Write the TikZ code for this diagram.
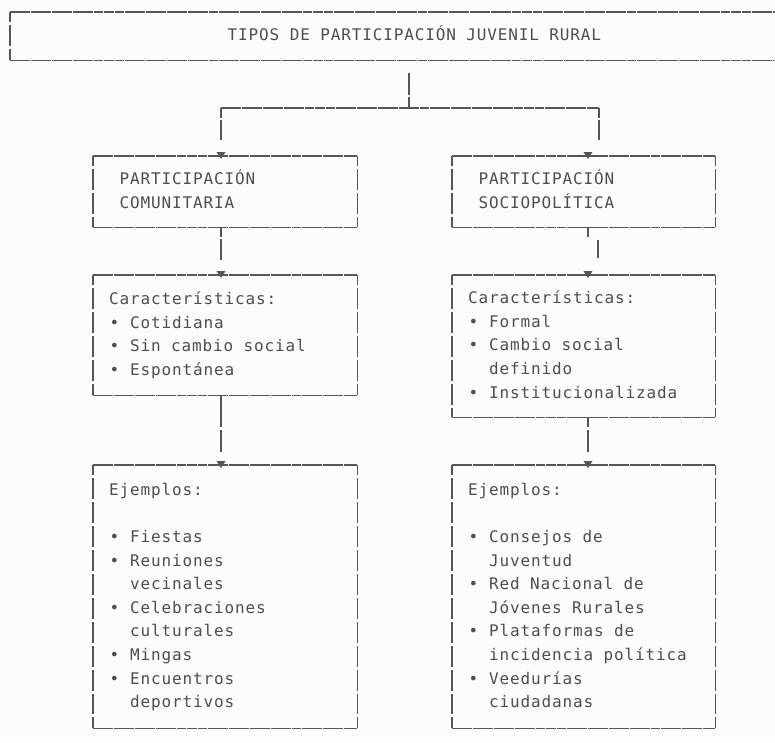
\documentclass[tikz,border=0pt]{standalone}
\usepackage{fontspec}
\newfontfamily\monofam[LetterSpace=5.4]{DejaVu Sans Mono}
\usetikzlibrary{calc}
\definecolor{ink}{HTML}{4E4E4E}
\definecolor{edge}{HTML}{555555}
\definecolor{paper}{HTML}{FCFCFB}
\newcommand\sideedges[1]{%
  \draw[hl] (#1.north west) -- (#1.north east);
  \draw[hl] (#1.south west) -- (#1.south east);
  \draw[vl] (#1.north west) -- (#1.south west);
  \draw[vl] (#1.north east) -- (#1.south east);}
\newcommand\downtip[1]{%
  \fill[edge] ($#1+(-4.5,-4)$) -- ($#1+(4.5,-4)$) -- ($#1+(0,3)$) -- cycle;}
\newcommand\cc{\hspace*{10.45pt}}
\newcommand\cci{\hspace*{20.9pt}}
\newcommand\bul{\makebox[10.45pt][c]{•}\hspace*{10.45pt}}
\newcommand\monosize[1]{\monofam\fontsize{16}{#1}\selectfont}
\begin{document}
\begin{tikzpicture}[x=1pt,y=-1pt,
  txt/.style={font=\monosize{23.9}, text=ink, align=left,
    inner ysep=0pt, inner xsep=16pt, anchor=north west,
    execute at begin node={\spaceskip=10.45pt\relax\xspaceskip=10.45pt\relax}},
  hl/.style={draw=edge, line width=1.3pt, dash pattern=on 9.85pt off 0.6pt},
  vl/.style={draw=edge, line width=1.3pt, dash pattern=on 20.9pt off 3pt, dash phase=10.45pt},
  cn/.style={draw=edge, line width=1.3pt}]
\fill[paper] (0,0) rectangle (775,742);
\useasboundingbox (0,0) rectangle (775,742);

% title
\node[txt, text width=733pt, minimum height=48pt] (title) at (10,12)
  {\strut\hspace*{201.5pt}TIPOS DE PARTICIPACIÓN JUVENIL RURAL};
\draw[hl] (title.north west) -- (title.north east);
\draw[hl] (title.south west) -- (title.south east);
\draw[vl] (title.north west) -- (title.south west);

% level 1
\node[txt, text width=232pt, minimum height=71pt] (b1) at (93,156)
  {\strut\cc PARTICIPACIÓN\\\strut\cc COMUNITARIA};
\node[txt, text width=231pt, minimum height=71pt] (b2) at (452,156)
  {\strut\cc PARTICIPACIÓN\\\strut\cc SOCIOPOLÍTICA};
% level 2
\node[txt, text width=232pt, minimum height=120pt] (b3) at (93,275)
  {\strut Características:\\\strut\bul Cotidiana\\\strut\bul Sin cambio social\\\strut\bul Espontánea};
\node[txt, text width=231pt, minimum height=142pt] (b4) at (452,275)
  {\strut Características:\\\strut\bul Formal\\\strut\bul Cambio social\\\strut\cci definido\\\strut\bul Institucionalizada};
% level 3
\node[txt, font=\monosize{23.6}, text width=232pt, minimum height=263pt] (b5) at (93,465)
  {\strut Ejemplos:\\\strut\\\strut\bul Fiestas\\\strut\bul Reuniones\\\strut\cci vecinales\\\strut\bul Celebraciones\\\strut\cci culturales\\\strut\bul Mingas\\\strut\bul Encuentros\\\strut\cci deportivos};
\node[txt, font=\monosize{23.6}, text width=231pt, minimum height=263pt] (b6) at (452,465)
  {\strut Ejemplos:\\\strut\\\strut\bul Consejos de\\\strut\cci Juventud\\\strut\bul Red Nacional de\\\strut\cci Jóvenes Rurales\\\strut\bul Plataformas de\\\strut\cci incidencia política\\\strut\bul Veedurías\\\strut\cci ciudadanas};

\sideedges{b1}\sideedges{b2}\sideedges{b3}\sideedges{b4}\sideedges{b5}\sideedges{b6}

% connectors
\coordinate (split) at (409,108);
\coordinate (jl) at (221,108);
\coordinate (jr) at (599,108);
\draw[cn, dash pattern=on 22pt off 2pt] ($(title.south -| split)+(0,13)$) -- (split);
\draw[hl] (jl) -- (jr);
\draw[cn, dash pattern=on 10pt off 2pt on 20pt off 100pt] (jl) -- (jl |- b1.north);
\draw[cn, dash pattern=on 10pt off 2pt on 20pt off 100pt] (jr) -- (jr |- b2.north);
\downtip{($(b1.north west)+(128,0)$)}
\downtip{($(b2.north west)+(136,0)$)}

\draw[cn, dash pattern=on 10pt off 2pt on 21pt off 100pt] ($(b1.south west)+(128,0)$) -- ($(b3.north west)+(128,0)$);
\downtip{($(b3.north west)+(128,0)$)}

\draw[cn] ($(b2.south west)+(136,0)$) -- ($(b2.south west)+(136,10)$);
\draw[cn] ($(b2.south west)+(146,13)$) -- ($(b2.south west)+(146,31)$);
\downtip{($(b4.north west)+(136,0)$)}

\draw[cn, dash pattern=on 32pt off 3pt on 22pt off 100pt] ($(b3.south west)+(128,0)$) -- ($(b5.north west)+(128,0)$);
\downtip{($(b5.north west)+(128,0)$)}

\draw[cn, dash pattern=on 10pt off 3pt on 22pt off 100pt] ($(b4.south west)+(136,0)$) -- ($(b6.north west)+(136,0)$);
\downtip{($(b6.north west)+(136,0)$)}
\end{tikzpicture}
\end{document}
